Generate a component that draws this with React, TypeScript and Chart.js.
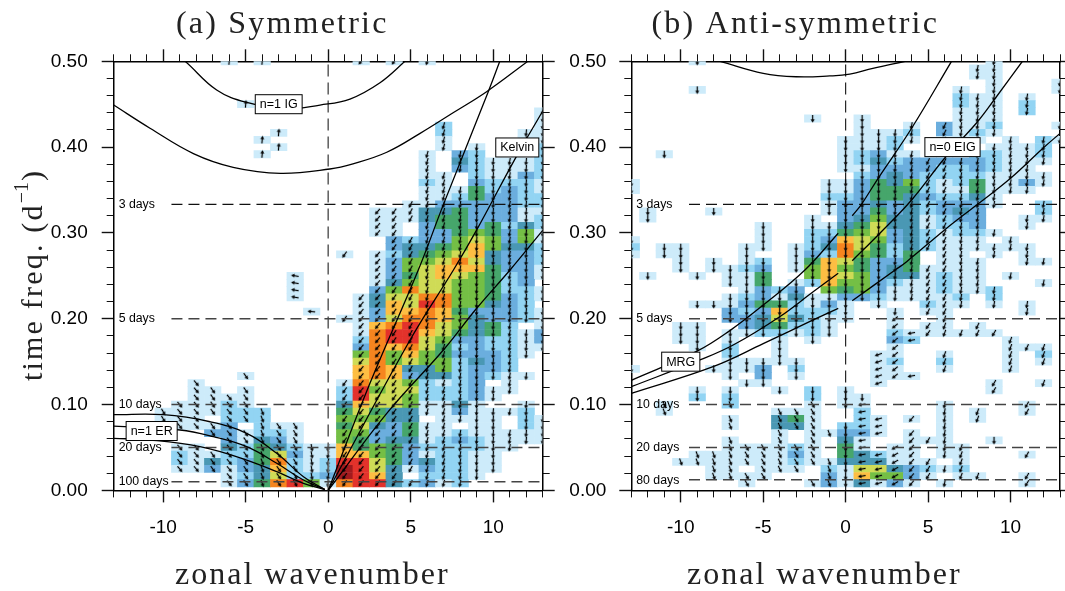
import React, { useEffect, useRef } from "react";
import { Chart, registerables } from "chart.js";

Chart.register(...registerables);

// Each row: wavenumbers -13..-1 | 0 | 1..13, from the bin nearest 0.50 (row 60) down to row 1.
// Characters are colour levels: . none, 1-9, a, b
const symRows = [
  ".......1.1...|.|.1.1.1.......", "||", "||", "||", "||", "||",
  "........1....|.|", "|.|............1", "|.|............1", "|.|......2.....1",
  "..........1..|.|......2....11", ".........1...|.|......1....11", "..........1..|.|......1.1...2", ".........1...|.|.....1.32...2",
  "|.|.....1.421112", "|.|.....1.321112", "|.|.....11.21132", "|.|.....21.32221", "|.|.....11152321", "|.|.....11253322",
  "|.|....113333322", "|.|..11144533311", "|.|..11145533312", "|.|..11.35535242", "|.|..11.33565361", "|.|...3233676361",
  "|.|...3445686442", "|.|1.12456784332", "|.|..13667974332", "|.|..13678885331",
  "...........1.|.|..13578765231", "...........1.|.|..1467766523.", "...........1.|.|..36977665221", "...........1.|.|.147799665321",
  "|.|.1487a966432.", "............1|.|.138898533321", "|.|1137998643321", "|.|.189a976452.1", "|.|.19aa87545213", "|.|.29aa76332213",
  "|.|.398975232211", "|.|.69686533321.", "|.|.7967662432..", "|.|.8984462332..", "........1....|.|.89834423211.",
  ".....1.......|.|197762123.1..", ".....11.1....|.|2a677222311..", ".....1111....|.|2a77622231...", "....11121....|.|487761141..1.", "...1111222...|.|575441131112.",
  "...111.222...|.|66644.1111.21", "....1113.211.|.|5743511.11.21", "......331221.|.|6633511211111", ".......31431.|.|6534412321111", "....11.425421|1|85653222211..",
  "....211225731|1|8865312211...", "....214235921|2|aa75342211...", "....113134821|2|ba74132211...", ".......124722|3|ba84.2221....", ".......1359a6|1|9aa42312.....",
];

const antiRows = [
  "....1........|.|........1....", "|.|.......11....", "|.|.......11....", "|.|........1...1", "....1........|.|......1.1...1",
  "|.|......211.1..", "|.|......211.2..", "|.|......111.2..", "...........1.|.|1.....111....", "|.|1..1.3112...1",
  "|.|1112.3121....", "|1|1121.111.1.21", "|1|112.....1112.", "..1..........|1|2311...22112.", "|1|242333332111.",
  "|1|13333223211..", "|.|234322221111.", "1...........1|1|354621251131.", "1...........1|1|35552115111..", "............2|2|355432241....",
  "............1|3|343423331..2.", ".1...1......1|3|35342343...2.", ".1.........1.|3|46441233..11.", "........1..11|4|57441223..1..", "........1..22|5|673421221....",
  "1.......1..23|8|76342111.1...", "2.11...11.124|9|75242111111..", "1.11...1..132|9|6525.11.1.1..", "...1.1.12.158|7|5335.111..11.", "...1.1123.168|6|53451111.....",
  ".1..1.115..68|7|63441211.1...", "......115.128|6|63211211...1.", ".......1323.6|5|631112112....", "......1231411|3|3211112.2....", "....111355213|1|.1..211.1.1..",
  "......3238222|1|..1.11....1..", "......3347421|1|..1..1.......", "...11..345221|.|..1.11.1.....", "...11.1122121|.|..2111111....", "...11.1..1.1.|.|..32.....1...",
  "....1.2..1...|.|..1......111.", "......2..1...|.|.11..1...1.2.", "......11111..|.|.12..2...1.1.", "1....1113.2..|.|.11..1...1...", "......1.3.1..|.|.111.........",
  ".......11....|.|.1......1..1.", "....1.1..1.2.|1|........1....", "....2.2....2.|1|1............", "..1...2....1.|1|1....1....1..", "..1......111.|.|2....1.1..1..",
  "......1..451.|.|21.1.1.1.....", "......1..441.|2|21...1.......", ".........1.11|3|31.1.1.......", "......1..1.1.|4|1..111..1....", "......111121.|5|1.11.11......",
  "....11111131.|5|4211.11...1..", "...1111111211|4|44111.1......", ".....11.111.2|1|7743212......", ".....1111...3|1|86631.11..1..", ".......1...13|1|4131.1....1..",
];

// Arrow direction in degrees, one value per wavenumber -13..13
const symArrowAngles = [70, 70, 70, 60, 50, 50, 55, 50, 55, 70, 55, 60, 80, 100, 125, 130, 130, 125, 118, 105, 105, 100, 95, 95, 100, 95, 95];
const antiArrowUpper = [90, 90, 90, 90, 90, 90, 90, 90, 90, 90, 90, 90, 90, 90, 90, 90, 95, 100, 115, 115, 100, 100, 100, 100, 100, 100, 100];
const antiArrowMiddle = [90, 90, 90, 90, 90, 90, 90, 90, 90, 90, 90, 90, 90, 90, 90, 160, 140, 170, 125, 110, 110, 115, 120, 110, 115, 110, 90];
const antiArrowLower = [70, 70, 70, 70, 70, 70, 70, 60, 60, 65, 60, 60, 70, 90, 170, 165, 150, 130, 120, 100, 110, 110, 90, 100, 120, 90, 90];

const levelColors = ["#ffffff", "#cdebfa", "#92d4f3", "#6baede", "#4a98b4", "#46a66b", "#74bf45", "#cfdb56", "#fdbe43", "#f6851f", "#e3322b", "#a21a1e"];

const yTickLabels = ["0.00", "0.10", "0.20", "0.30", "0.40", "0.50"];
const xTickLabels = ["-10", "-5", "0", "5", "10"];

type P = [number, number];
const symCurves: P[][] = [
  [[-9.5, 0.512], [-8.67, 0.5], [-6.76, 0.4666], [-4.93, 0.452], [-2.6, 0.4445], [-0.5, 0.449], [1.32, 0.456], [3.14, 0.475], [4.65, 0.5], [5.2, 0.51]],
  [[-13, 0.449], [-10.8, 0.422], [-8.17, 0.3925], [-5.76, 0.3765], [-2.9, 0.3695], [0.1, 0.3745], [1.5, 0.3805], [3.55, 0.394], [5.57, 0.416], [7.57, 0.44], [9.6, 0.4646], [12.1, 0.5]],
  [[0, 0], [2.53, 0.1248], [5.46, 0.2568], [6.98, 0.333], [9.7, 0.4646], [10.4, 0.5]],
  [[0, 0], [4.96, 0.1753], [7.59, 0.2568], [9, 0.3035], [11.4, 0.389], [12.94, 0.44], [13.2, 0.449]],
  [[0, 0], [3.55, 0.0898], [6.98, 0.1636], [9, 0.2122], [11.02, 0.2568], [12.94, 0.3015], [13.2, 0.307]],
  [[-13, 0.0882], [-10, 0.0882], [-7.16, 0.08], [-4.94, 0.0665], [-3.12, 0.0432], [-1.5, 0.016], [-0.2, 0.001]],
  [[-13, 0.075], [-8.98, 0.0704], [-6.96, 0.0626], [-4.94, 0.0509], [-3.12, 0.0316], [-1.5, 0.0121], [-0.2, 0.001]],
  [[-13, 0.0607], [-10.8, 0.0587], [-7.77, 0.0509], [-4.94, 0.0354], [-3.12, 0.0218], [-1.5, 0.0083], [-0.2, 0.001]],
];
const antiCurves: P[][] = [
  [[-7.6, 0.5], [-5, 0.486], [-3, 0.482], [-0.96, 0.4829], [0.25, 0.485], [1.65, 0.4918], [3.6, 0.5]],
  [[-13, 0.1283], [-8.98, 0.1625], [-7.02, 0.1862], [-5, 0.216], [-2.47, 0.2568], [-0.45, 0.2996]],
  [[-13, 0.1208], [-8.84, 0.152], [-6.82, 0.1694], [-4, 0.2024], [-1.97, 0.2315], [-0.45, 0.253]],
  [[-13, 0.1131], [-8, 0.1445], [-5, 0.171], [-1.97, 0.1986], [-0.45, 0.2122]],
  [[0.4, 0.32], [0.96, 0.3334], [1.97, 0.3637], [4, 0.422], [6.42, 0.5]],
  [[0.4, 0.2676], [1.97, 0.2976], [4, 0.3384], [6, 0.387], [8, 0.4296], [9, 0.4549], [10.72, 0.5]],
  [[0.4, 0.221], [3, 0.2568], [3.7, 0.2665], [6, 0.3035], [8, 0.3334], [10, 0.3637], [12, 0.3993], [13, 0.416]],
];

const symPeriods: [string, number, number][] = [["3 days", 0.3333, 0.3333], ["5 days", 0.2, 0.2], ["10 days", 0.1, 0.1], ["20 days", 0.05, 0.05], ["100 days", 0.01, 0.0105]];
const antiPeriods: [string, number, number][] = [["3 days", 0.3333, 0.3333], ["5 days", 0.2, 0.2], ["10 days", 0.1, 0.1], ["20 days", 0.05, 0.05], ["80 days", 0.0125, 0.012]];
const symBoxes: [string, number, number][] = [["n=1 IG", -3.0, 0.45], ["n=1 ER", -10.7, 0.0692], ["Kelvin", 11.46, 0.3996]];
const antiBoxes: [string, number, number][] = [["n=0 EIG", 6.48, 0.4], ["MRG", -10, 0.15]];

const arrowCanvas = () => {
  const c = document.createElement("canvas");
  c.width = 11;
  c.height = 11;
  const g = c.getContext("2d")!;
  g.strokeStyle = "#000";
  g.fillStyle = "#000";
  g.lineWidth = 1.25;
  g.beginPath();
  g.moveTo(2, 5.5);
  g.lineTo(8.5, 5.5);
  g.stroke();
  g.beginPath();
  g.moveTo(9.7, 5.5);
  g.lineTo(6.3, 3.5);
  g.lineTo(6.3, 7.5);
  g.closePath();
  g.fill();
  return c;
};

const parseCells = (rows: string[]) => {
  const cells: { x: number; y: [number, number]; level: number; row: number }[] = [];
  rows.forEach((line, i) => {
    const row = 60 - i;
    const [neg = "", zero = "", pos = ""] = line.split("|");
    const put = (s: string, wn: number) => {
      const level = parseInt(s, 16);
      if (level > 0) cells.push({ x: wn, y: [(row - 0.5) / 120, (row + 0.5) / 120], level, row });
    };
    [...neg].forEach((s, k) => put(s, k - 13));
    [...zero].forEach((s) => put(s, 0));
    [...pos].forEach((s, k) => put(s, k + 1));
  });
  return cells;
};

const symAngle = (wn: number, row: number) => {
  if (wn < 0 && wn >= -6 && row >= 44) return -85;
  if (wn === -2 && row >= 27 && row <= 30) return 190;
  if (wn === -1 && row === 25) return 185;
  return symArrowAngles[wn + 13];
};
const antiAngle = (wn: number, row: number) => {
  if (row >= 25) return antiArrowUpper[wn + 13];
  if (row >= 13) return antiArrowMiddle[wn + 13];
  return antiArrowLower[wn + 13];
};

const SANS = '"Liberation Sans", sans-serif';
const SERIF = '"Liberation Serif", serif';

function buildConfig(opts: {
  rows: string[];
  curves: P[][];
  periods: [string, number, number][];
  boxes: [string, number, number][];
  angle: (wn: number, row: number) => number;
  zeroLine: { color: string; width: number };
  leftW: number;
  rightPad: number;
  tickPad: number;
  title: string;
  titleX: number;
  xTitleX: number;
  yTitle: boolean;
}) {
  const cells = parseCells(opts.rows);
  const arrow = arrowCanvas();
  const top = 61.3;
  const bottomH = 591 - 490.4;

  const gridBase = { offset: false, drawOnChartArea: false };
  const xAxis = (position: string, step: number, len: number, main: boolean, labels: boolean, weight: number) => ({
    type: "linear",
    axis: "x",
    position,
    min: -13,
    max: 13,
    weight,
    offset: false,
    afterFit: (s: any) => { s.height = labels ? bottomH : 0; },
    border: { display: main, width: 1.5, color: "#000" },
    grid: { ...gridBase, drawTicks: true, tickLength: len, tickWidth: main ? 1.4 : 1, tickColor: "#111" },
    ticks: {
      display: labels,
      stepSize: step,
      includeBounds: false,
      autoSkip: false,
      maxRotation: 0,
      padding: 14,
      color: "#000",
      font: { family: SANS, size: 19 },
      callback: (v: number) => (xTickLabels.includes(String(v)) ? String(v) : ""),
    },
  });
  const yAxis = (position: string, step: number, len: number, main: boolean, labels: boolean, weight: number) => ({
    type: "linear",
    axis: "y",
    position,
    min: 0,
    max: 0.5,
    weight,
    afterFit: (s: any) => { s.width = labels ? opts.leftW : 0; },
    border: { display: main, width: 1.5, color: "#000" },
    grid: { ...gridBase, drawTicks: true, tickLength: len, tickWidth: main ? 1.4 : 1, tickColor: "#111" },
    ticks: {
      display: labels,
      stepSize: step,
      includeBounds: false,
      autoSkip: false,
      padding: opts.tickPad,
      color: "#000",
      font: { family: SANS, size: 19 },
      callback: (v: number) => (yTickLabels.includes(v.toFixed(2)) ? v.toFixed(2) : ""),
    },
  });

  const lineStyle = { type: "scatter", showLine: true, pointRadius: 0, fill: false };

  const datasets: any[] = [
    {
      type: "bar",
      data: cells,
      order: 5,
      barPercentage: 1,
      categoryPercentage: 1,
      borderWidth: 0,
      backgroundColor: (c: any) => levelColors[c.raw ? c.raw.level : 0],
    },
    {
      type: "scatter",
      data: cells.map((c) => ({ x: c.x, y: (c.y[0] + c.y[1]) / 2 })),
      order: 4,
      pointStyle: arrow,
      pointRadius: 6,
      pointRotation: cells.map((c) => opts.angle(c.x, c.row)),
    },
    ...opts.periods.map(([, f], i) => ({
      ...lineStyle,
      data: [{ x: -9.5, y: f }, { x: 13, y: f }],
      order: 3,
      borderColor: i === 0 ? "#111" : "#444",
      borderWidth: i === 0 ? 1.1 : 1.5,
      borderDash: [11, 6],
    })),
    {
      ...lineStyle,
      data: [{ x: 0, y: 0 }, { x: 0, y: 0.5 }],
      order: 3,
      borderColor: opts.zeroLine.color,
      borderWidth: opts.zeroLine.width,
      borderDash: [12, 6],
    },
    ...opts.curves.map((c) => ({
      ...lineStyle,
      data: c.map(([x, y]) => ({ x, y })),
      order: 2,
      borderColor: "#000",
      borderWidth: 1.3,
      tension: 0.4,
    })),
  ];

  const textPlugin = {
    id: "panelText",
    afterDraw(chart: any) {
      const { ctx, scales } = chart;
      ctx.save();
      ctx.fillStyle = "#000";
      ctx.textBaseline = "middle";
      ctx.textAlign = "left";
      ctx.font = `12.3px ${SANS}`;
      opts.periods.forEach(([t, , fy]) => {
        ctx.fillText(t, scales.x.getPixelForValue(-12.7), scales.y.getPixelForValue(fy));
      });
      ctx.font = `12.5px ${SANS}`;
      ctx.textAlign = "center";
      opts.boxes.forEach(([t, wn, f]) => {
        const px = scales.x.getPixelForValue(wn);
        const py = scales.y.getPixelForValue(f);
        const w = ctx.measureText(t).width + 9;
        const h = 19;
        ctx.fillStyle = "#fff";
        ctx.fillRect(px - w / 2, py - h / 2, w, h);
        ctx.strokeStyle = "#000";
        ctx.lineWidth = 1;
        ctx.strokeRect(px - w / 2, py - h / 2, w, h);
        ctx.fillStyle = "#000";
        ctx.fillText(t, px, py + 0.5);
      });
      ctx.textBaseline = "alphabetic";
      ctx.textAlign = "left";
      ctx.fillStyle = "#222";
      ctx.font = `32px ${SERIF}`;
      (ctx as any).letterSpacing = "2.2px";
      ctx.fillText(opts.title, opts.titleX, 32.5);
      (ctx as any).letterSpacing = "2px";
      ctx.fillText("zonal wavenumber", opts.xTitleX, 584);
      if (opts.yTitle) {
        ctx.translate(42, 381);
        ctx.rotate(-Math.PI / 2);
        ctx.font = `30px ${SERIF}`;
        (ctx as any).letterSpacing = "2.2px";
        const head = "time freq. (d";
        ctx.fillText(head, 0, 0);
        let x = ctx.measureText(head).width;
        ctx.font = `20px ${SERIF}`;
        (ctx as any).letterSpacing = "0px";
        const sup = "\u22121";
        ctx.fillText(sup, x, -14);
        x += ctx.measureText(sup).width + 1;
        ctx.font = `30px ${SERIF}`;
        ctx.fillText(")", x, 0);
      }
      ctx.restore();
    },
  };

  return {
    type: "bar",
    data: { datasets },
    plugins: [textPlugin],
    options: {
      responsive: false,
      animation: false,
      events: [],
      layout: { autoPadding: false, padding: { top, right: opts.rightPad, left: 0, bottom: 0 } },
      plugins: { legend: { display: false }, tooltip: { enabled: false }, title: { display: false } },
      scales: {
        x: xAxis("bottom", 5, 12, true, true, 1),
        xMinor: xAxis("bottom", 1, 7, false, false, 0),
        xTop: xAxis("top", 5, 12, true, false, 1),
        xTopMinor: xAxis("top", 1, 7, false, false, 0),
        y: yAxis("left", 0.1, 12, true, true, 1),
        yMinor: yAxis("left", 0.02, 7, false, false, 0),
        yRight: yAxis("right", 0.1, 12, true, false, 1),
        yRightMinor: yAxis("right", 0.02, 7, false, false, 0),
      },
    },
  };
}

export default function App() {
  const leftRef = useRef<HTMLCanvasElement>(null);
  const rightRef = useRef<HTMLCanvasElement>(null);
  useEffect(() => {
    const a = new Chart(leftRef.current!, buildConfig({
      rows: symRows, curves: symCurves, periods: symPeriods, boxes: symBoxes, angle: symAngle,
      zeroLine: { color: "#666", width: 1.6 }, leftW: 113.7, rightPad: 555 - 542.7, tickPad: 14,
      title: "(a) Symmetric", titleX: 176, xTitleX: 175, yTitle: true,
    }) as any);
    const b = new Chart(rightRef.current!, buildConfig({
      rows: antiRows, curves: antiCurves, periods: antiPeriods, boxes: antiBoxes, angle: antiAngle,
      zeroLine: { color: "#111", width: 1.1 }, leftW: 76.3, rightPad: 5, tickPad: 13,
      title: "(b) Anti-symmetric", titleX: 96.5, xTitleX: 132, yTitle: false,
    }) as any);
    return () => { a.destroy(); b.destroy(); };
  }, []);
  return (
    <div>
      <canvas ref={leftRef} width={555} height={591} style={{ position: "fixed", left: 0, top: 0, width: 555, height: 591 }} />
      <canvas ref={rightRef} width={510} height={591} style={{ position: "fixed", left: 555, top: 0, width: 510, height: 591 }} />
    </div>
  );
}
